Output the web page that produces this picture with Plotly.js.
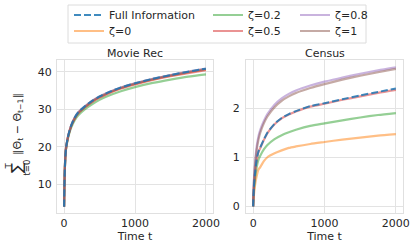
<!DOCTYPE html>
<html>
<head>
<meta charset="utf-8">
<script src="https://cdn.plot.ly/plotly-3.0.1.min.js"></script>
<style>html,body{margin:0;padding:0;background:#fff;}#chart{width:415px;height:248px;}</style>
</head>
<body>
<div id="chart"></div>
<script>
const timeSteps = [0, 5, 10, 25, 50, 75, 100, 150, 200, 300, 400, 500, 600, 800, 1000, 1250, 1500, 1750, 2000];

// Movie Rec panel
const movieFull   = [4.1, 10.0, 14.0, 19.3, 22.3, 24.2, 25.7, 27.8, 29.2, 30.9, 32.3, 33.4, 34.3, 35.8, 36.9, 38.1, 39.1, 40.0, 40.8];
const movieZeta0  = [4.1, 10.0, 14.0, 19.2, 22.2, 24.1, 25.6, 27.6, 29.0, 30.7, 32.1, 33.2, 34.1, 35.6, 36.7, 37.9, 38.9, 39.8, 40.6];
const movieZeta02 = [4.1, 10.0, 13.9, 19.0, 21.9, 23.7, 25.1, 27.1, 28.4, 30.1, 31.4, 32.5, 33.4, 34.8, 35.9, 37.0, 37.9, 38.7, 39.3];
const movieZeta05 = [4.1, 10.0, 14.0, 19.2, 22.1, 24.0, 25.5, 27.5, 28.9, 30.6, 32.0, 33.1, 34.0, 35.5, 36.6, 37.8, 38.8, 39.6, 40.4];
const movieZeta08 = [4.1, 10.0, 14.0, 19.3, 22.3, 24.2, 25.7, 27.8, 29.2, 30.9, 32.3, 33.4, 34.3, 35.8, 36.9, 38.1, 39.1, 40.0, 40.8];
const movieZeta1  = [4.1, 10.0, 14.0, 19.3, 22.2, 24.1, 25.6, 27.7, 29.1, 30.8, 32.2, 33.3, 34.2, 35.7, 36.8, 38.0, 39.0, 39.9, 40.7];

// Census panel
const censusFull   = [0, 0.22, 0.38, 0.65, 0.95, 1.12, 1.20, 1.36, 1.50, 1.68, 1.80, 1.88, 1.94, 2.04, 2.10, 2.18, 2.26, 2.33, 2.40];
const censusZeta0  = [0, 0.12, 0.22, 0.42, 0.62, 0.75, 0.80, 0.92, 1.00, 1.08, 1.14, 1.19, 1.22, 1.27, 1.31, 1.36, 1.40, 1.44, 1.47];
const censusZeta02 = [0, 0.18, 0.30, 0.55, 0.80, 0.95, 1.03, 1.16, 1.25, 1.37, 1.45, 1.51, 1.56, 1.64, 1.69, 1.75, 1.81, 1.86, 1.90];
const censusZeta05 = [0, 0.22, 0.38, 0.65, 0.95, 1.11, 1.19, 1.35, 1.49, 1.67, 1.79, 1.87, 1.93, 2.03, 2.09, 2.17, 2.24, 2.31, 2.37];
const censusZeta08 = [0, 0.30, 0.50, 0.85, 1.22, 1.43, 1.56, 1.74, 1.88, 2.07, 2.20, 2.29, 2.36, 2.46, 2.54, 2.62, 2.70, 2.77, 2.83];
const censusZeta1  = [0, 0.28, 0.47, 0.80, 1.15, 1.36, 1.50, 1.69, 1.83, 2.02, 2.15, 2.24, 2.31, 2.41, 2.49, 2.58, 2.66, 2.73, 2.80];

const seriesNames = ['ζ=0', 'ζ=0.2', 'ζ=0.5', 'ζ=0.8', 'ζ=1'];
const fullName = 'Full Information';
const panelTitles = ['Movie Rec', 'Census'];
const xTicks = [0, 1000, 2000];
const movieYTicks = [10, 20, 30, 40];
const censusYTicks = [0, 1, 2];

const zetaColors = ['rgba(255,127,14,0.5)', 'rgba(44,160,44,0.5)', 'rgba(214,39,40,0.5)', 'rgba(148,103,189,0.5)', 'rgba(140,86,75,0.5)'];
// one legend per entry so that the 3-column, 2-row grid matches
const zetaLegends = ['legend2', 'legend3', 'legend4', 'legend5', 'legend6'];
const fullColor = 'rgba(31,119,180,0.85)';

const movieZeta = [movieZeta0, movieZeta02, movieZeta05, movieZeta08, movieZeta1];
const censusZeta = [censusZeta0, censusZeta02, censusZeta05, censusZeta08, censusZeta1];

const traces = [];
[[movieZeta, movieFull, 'x', 'y', true], [censusZeta, censusFull, 'x2', 'y2', false]].forEach(([zs, full, xa, ya, show]) => {
  zs.forEach((vals, i) => {
    traces.push({
      x: timeSteps, y: vals, xaxis: xa, yaxis: ya, type: 'scatter', mode: 'lines',
      name: seriesNames[i], line: {color: zetaColors[i], width: 2.2, shape: 'spline', smoothing: 0.6},
      showlegend: show, legend: zetaLegends[i], hoverinfo: 'skip'
    });
  });
  traces.push({
    x: timeSteps, y: full, xaxis: xa, yaxis: ya, type: 'scatter', mode: 'lines',
    name: fullName, line: {color: fullColor, width: 2, dash: '7px,3px', shape: 'spline', smoothing: 0.6},
    showlegend: show, legend: 'legend', hoverinfo: 'skip'
  });
});

const font = {family: 'DejaVu Sans', size: 11, color: '#262626'};
const axBase = {
  showgrid: true, gridcolor: '#e3e3e3', gridwidth: 1, zeroline: false,
  showline: true, mirror: true, linecolor: '#e0e0e0', linewidth: 1,
  ticks: '', ticklen: 0, tickfont: font, automargin: false
};
const px = v => v / 415, py = v => 1 - v / 248;
const legBase = {xanchor: 'left', yanchor: 'middle', bgcolor: 'rgba(0,0,0,0)', borderwidth: 0, font: font, tracegroupgap: 0};
const leg = (x, y) => Object.assign({}, legBase, {x: px(x), y: py(y)});
const mathFont = s => ({family: 'DejaVu Sans', size: s, color: '#262626'});

const layout = {
  width: 415, height: 248, margin: {l: 0, r: 0, t: 0, b: 0},
  paper_bgcolor: '#fff', plot_bgcolor: '#fff', font: font,
  xaxis: Object.assign({}, axBase, {domain: [px(57), px(213)], range: [-100, 2100], tickvals: xTicks, ticktext: xTicks.map(String), anchor: 'y',
    title: {text: 'Time t', font: font, standoff: 0}, ticklabelstandoff: 0}),
  yaxis: Object.assign({}, axBase, {domain: [1 - 213/248, 1 - 60/248], range: [2.4, 43.1], tickvals: movieYTicks, ticktext: movieYTicks.map(String), anchor: 'x', ticklabelstandoff: 2}),
  xaxis2: Object.assign({}, axBase, {domain: [px(246), px(403)], range: [-100, 2100], tickvals: xTicks, ticktext: xTicks.map(String), anchor: 'y2',
    title: {text: 'Time t', font: font, standoff: 0}, ticklabelstandoff: 0}),
  yaxis2: Object.assign({}, axBase, {domain: [1 - 213/248, 1 - 60/248], range: [-0.135, 2.98], tickvals: censusYTicks, ticktext: censusYTicks.map(String), anchor: 'x2', ticklabelstandoff: 3}),
  legend: leg(69, 15),
  legend2: leg(69, 31),
  legend3: leg(208, 15),
  legend4: leg(208, 31),
  legend5: leg(295, 15),
  legend6: leg(295, 31),
  shapes: [{type: 'rect', xref: 'paper', yref: 'paper', x0: px(68), x1: px(366), y0: py(43), y1: py(5),
    line: {color: '#dcdcdc', width: 1}, fillcolor: 'rgba(255,255,255,0.8)', layer: 'below'}],
  annotations: [
    {text: panelTitles[0], xref: 'paper', yref: 'paper', x: px(135), y: py(53), xanchor: 'center', yanchor: 'middle', showarrow: false, font: font},
    {text: panelTitles[1], xref: 'paper', yref: 'paper', x: px(324.5), y: py(53), xanchor: 'center', yanchor: 'middle', showarrow: false, font: font},
    {text: '∑', xref: 'paper', yref: 'paper', x: px(16.5), y: py(168.5), xanchor: 'center', yanchor: 'middle', showarrow: false, textangle: -90, font: mathFont(15)},
    {text: 'T', xref: 'paper', yref: 'paper', x: px(8.5), y: py(166), xanchor: 'center', yanchor: 'middle', showarrow: false, textangle: -90, font: mathFont(8.5)},
    {text: 't=0', xref: 'paper', yref: 'paper', x: px(26.5), y: py(168), xanchor: 'center', yanchor: 'middle', showarrow: false, textangle: -90, font: mathFont(8.5)},
    {text: '‖Θ<sub>t</sub> − Θ<sub>t−1</sub>‖', xref: 'paper', yref: 'paper', x: px(18), y: py(124), xanchor: 'center', yanchor: 'middle', showarrow: false, textangle: -90, font: font}
  ]
};

Plotly.newPlot('chart', traces, layout, {displayModeBar: false, staticPlot: true});
</script>
</body>
</html>
